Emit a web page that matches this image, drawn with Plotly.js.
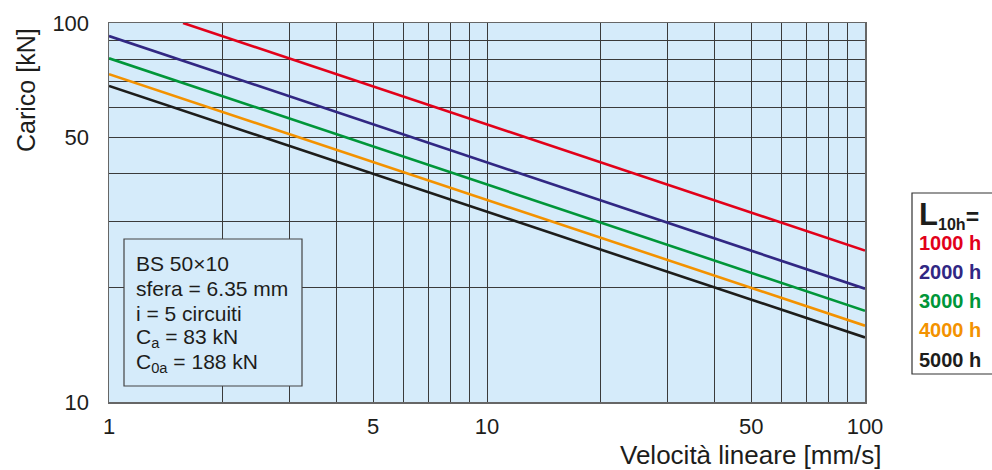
<!DOCTYPE html>
<html>
<head>
<meta charset="utf-8">
<script src="https://cdn.plot.ly/plotly-3.0.1.min.js"></script>
<style>html,body{margin:0;padding:0;background:#fff;}#chart{width:992px;height:470px;}</style>
</head>
<body>
<div id="chart"></div>
<script>
// Data (log-log straight lines: start and end points)
const seriesNames = ["1000 h", "2000 h", "3000 h", "4000 h", "5000 h"];
const seriesColors = ["#E2001A", "#312783", "#009639", "#F39200", "#1D1D1B"];
const xStart = [1.57, 1, 1, 1, 1];
const yStart = [100, 92.4, 80.7, 73.3, 68.2];
const xEnd = [100, 100, 100, 100, 100];
const yEnd = [25.1, 19.9, 17.4, 15.9, 14.8];

const xTickVals = [1, 5, 10, 50, 100];
const xTickText = ["1", "5", "10", "50", "100"];
const xMinorVals = [2,3,4,6,7,8,9,20,30,40,60,70,80,90];
const yTickVals = [10, 50, 100];
const yTickText = ["10", "50", "100"];
const yMinorVals = [20,30,40,60,70,80,90];

const insetLines = ["BS 50×10", "sfera = 6.35 mm", "i = 5 circuiti", "C<sub>a</sub> = 83 kN", "C<sub>0a</sub> = 188 kN"];

const W = 992, H = 470;
const L = 109, R = 865, T = 23, B = 402;
const px = x => (x - L) / (R - L);
const py = y => (B - y) / (B - T);

const traces = seriesNames.map((n, i) => ({
  type: "scatter", mode: "lines", name: n,
  x: [xStart[i], xEnd[i]], y: [yStart[i], yEnd[i]],
  line: {color: seriesColors[i], width: 2.6},
  hoverinfo: "skip", showlegend: false
}));

const font = "Liberation Sans, Arial, Helvetica, sans-serif";
const ink = "#1d1d1b";
const annotations = [];
// axis titles
annotations.push({xref:"paper", yref:"paper", x: px(884), y: py(455), xanchor:"right", yanchor:"middle",
  text:"Velocità lineare [mm/s]", showarrow:false, font:{family:font, size:26, color:ink}});
annotations.push({xref:"paper", yref:"paper", x: px(26), y: py(90), xanchor:"center", yanchor:"middle",
  textangle:-90, text:"Carico [kN]", showarrow:false, font:{family:font, size:25, color:ink}});
// inset
insetLines.forEach((t, i) => {
  annotations.push({xref:"paper", yref:"paper", x: px(134), y: py(263 + i * 25), xanchor:"left", yanchor:"middle",
    text: t, showarrow:false, font:{family:font, size:21, color:ink}});
});
// legend
annotations.push({xref:"paper", yref:"paper", x: px(917), y: py(215), xanchor:"left", yanchor:"middle",
  text:"<b><span style='font-size:31px'>L</span><sub>10h</sub>=</b>", showarrow:false,
  font:{family:font, size:23, color:ink}});
const legendY = [243, 272, 301, 330, 360];
seriesNames.forEach((n, i) => {
  annotations.push({xref:"paper", yref:"paper", x: px(917), y: py(legendY[i]), xanchor:"left", yanchor:"middle",
    text: "<b>" + n + "</b>", showarrow:false, font:{family:font, size:20, color:seriesColors[i]}});
});

const shapes = [
  {type:"rect", xref:"paper", yref:"paper", x0: px(124), x1: px(302), y0: py(386), y1: py(239),
   fillcolor:"#D5EBFA", line:{color:"#444", width:1.2}, layer:"above"},
  {type:"rect", xref:"paper", yref:"paper", x0: px(912), x1: px(1010), y0: py(374), y1: py(193),
   fillcolor:"rgba(0,0,0,0)", line:{color:"#333", width:1.2}}
];

const gridCol = "#3a3a3a";
const layout = {
  width: W, height: H,
  margin: {l: L, r: W - R, t: T, b: H - B, pad: 0},
  paper_bgcolor: "#ffffff", plot_bgcolor: "#D5EBFA",
  showlegend: false,
  xaxis: {type:"log", range:[0, 2], tickmode:"array", tickvals:xTickVals, ticktext:xTickText,
    showgrid:true, gridcolor:gridCol, gridwidth:1, zeroline:false,
    minor:{tickmode:"array", tickvals:xMinorVals, showgrid:true, gridcolor:gridCol, gridwidth:1, ticks:""},
    showline:true, linecolor:"#666", linewidth:1.5, mirror:true, ticks:"",
    ticklabelstandoff: 4,
    tickfont:{family:font, size:22, color:ink}},
  yaxis: {type:"log", range:[1, 2], tickmode:"array", tickvals:yTickVals, ticktext:yTickText,
    showgrid:true, gridcolor:gridCol, gridwidth:1, zeroline:false,
    minor:{tickmode:"array", tickvals:yMinorVals, showgrid:true, gridcolor:gridCol, gridwidth:1, ticks:""},
    showline:true, linecolor:"#666", linewidth:1.5, mirror:true, ticks:"",
    ticklabelstandoff: 14,
    tickfont:{family:font, size:22, color:ink}},
  annotations: annotations,
  shapes: shapes
};

Plotly.newPlot("chart", traces, layout, {staticPlot:true, displayModeBar:false});
</script>
</body>
</html>
